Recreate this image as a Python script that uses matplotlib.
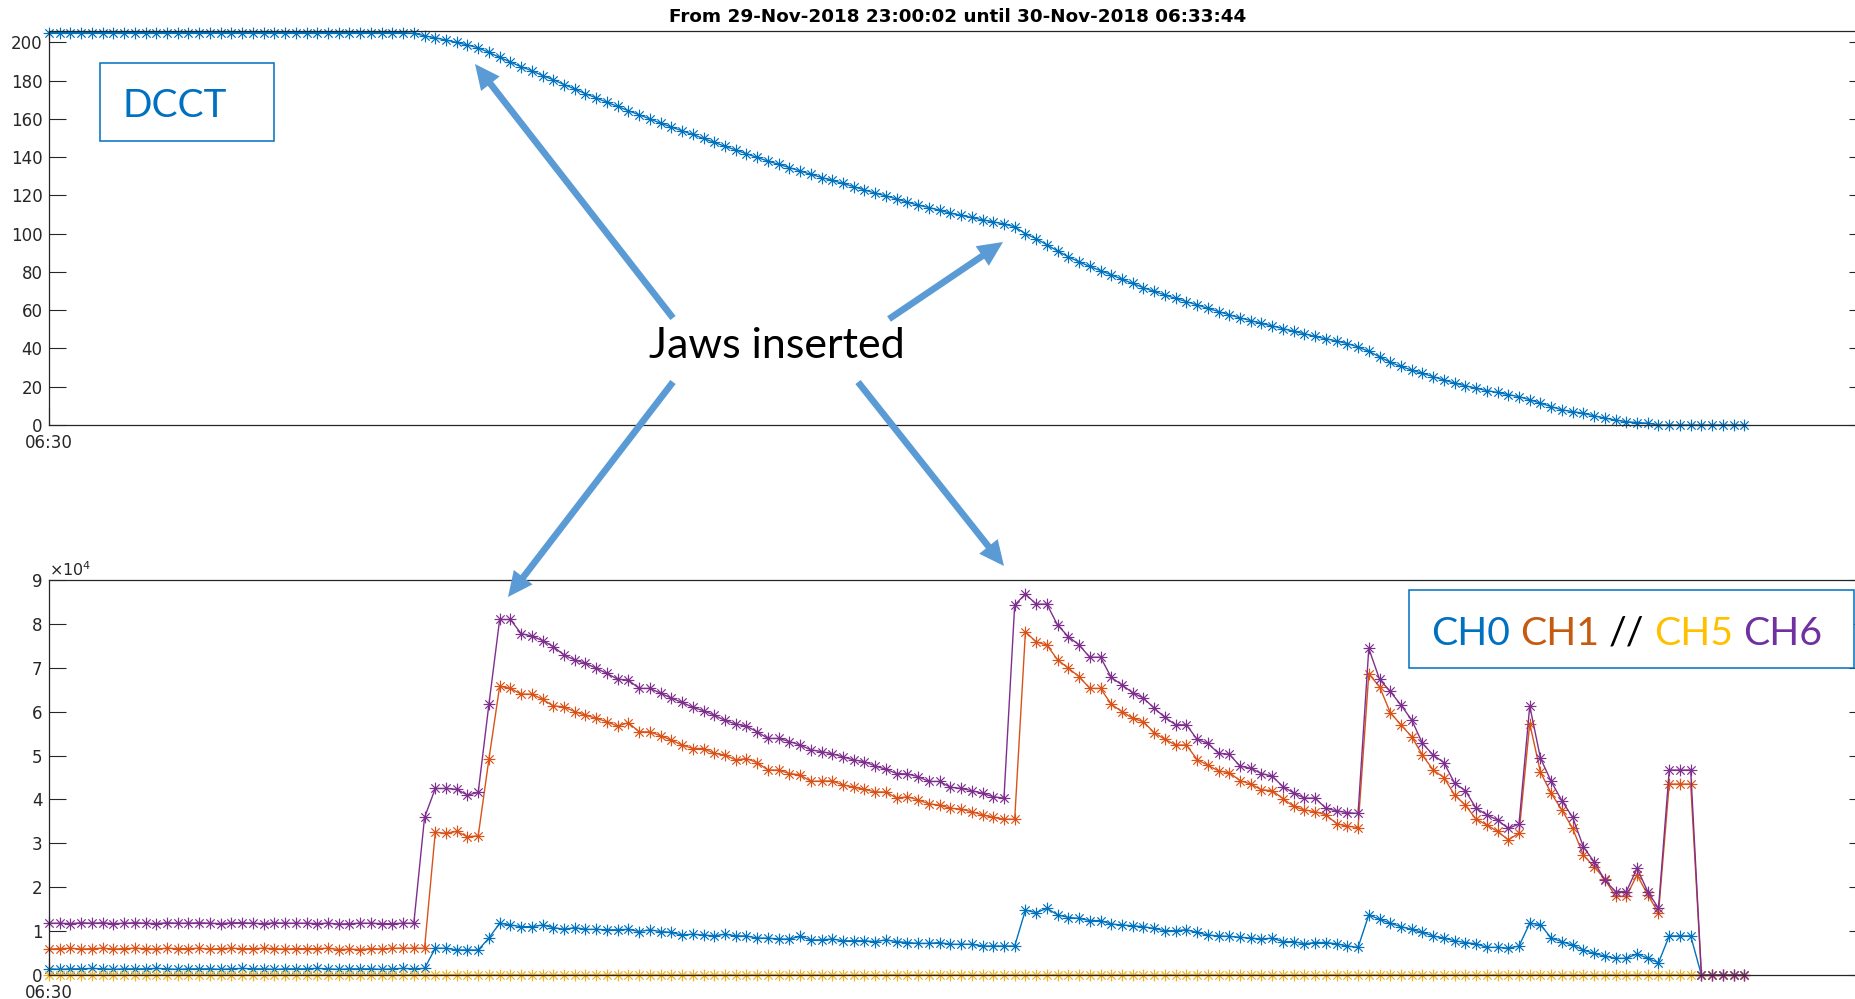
import numpy as np
import matplotlib
matplotlib.use("Agg")
import matplotlib.pyplot as plt
from matplotlib.path import Path
from matplotlib.patches import Rectangle, FancyArrowPatch
from matplotlib.transforms import IdentityTransform
from matplotlib.ticker import FuncFormatter

# ---------------------------------------------------------------- data
title_text = "From 29-Nov-2018 23:00:02 until 30-Nov-2018 06:33:44"
x_tick_label = "06:30"

# beam current (DCCT)
dcct = [
    205.2, 205.2, 205.2, 205.2, 205.2, 205.2, 205.2, 205.2, 205.2, 205.2,
    205.2, 205.2, 205.2, 205.2, 205.2, 205.2, 205.2, 205.2, 205.2, 205.2,
    205.2, 205.2, 205.2, 205.2, 205.2, 205.2, 205.2, 205.2, 205.2, 205.2,
    205.2, 205.2, 205.2, 205.2, 204.8, 203.5, 202.4, 201.3, 200.0, 198.7,
    197.2, 194.8, 192.2, 189.8, 187.3, 185.2, 182.7, 180.5, 178.0, 175.7,
    173.2, 171.0, 168.7, 166.6, 164.3, 162.2, 160.0, 157.8, 155.8, 153.8,
    151.9, 149.8, 147.8, 145.7, 143.8, 141.8, 139.9, 138.0, 136.3, 134.6,
    132.8, 131.1, 129.4, 127.9, 126.3, 124.6, 122.9, 121.2, 119.8, 118.2,
    116.5, 115.0, 113.7, 112.3, 110.8, 109.6, 108.5, 107.3, 106.2, 105.1,
    103.6, 100.0, 97.4, 94.2, 91.0, 87.9, 85.3, 82.9, 80.7, 78.5,
    76.2, 74.0, 71.8, 69.8, 68.0, 66.2, 64.5, 62.8, 61.0, 59.3,
    57.6, 56.0, 54.6, 53.1, 51.8, 50.4, 49.0, 47.7, 46.3, 45.1,
    43.9, 42.6, 40.8, 38.5, 35.7, 32.8, 30.6, 28.7, 27.0, 25.3,
    23.5, 21.9, 20.5, 19.2, 18.0, 17.0, 15.9, 14.8, 13.2, 11.4,
    9.6, 7.9, 7.0, 6.1, 4.8, 3.6, 2.6, 1.7, 1.3, 0.9,
    0, 0, 0, 0, 0, 0, 0, 0, 0,
]

# BLM channels
ch0 = [
    1400, 1300, 1400, 1400, 1500, 1400, 1300, 1400, 1400, 1400,
    1500, 1400, 1300, 1400, 1400, 1400, 1300, 1400, 1500, 1400,
    1400, 1300, 1400, 1400, 1400, 1500, 1400, 1300, 1400, 1400,
    1400, 1300, 1400, 1500, 1400, 1500, 6100, 6100, 5700, 5700,
    5700, 8400, 11800, 11400, 11000, 11000, 11400, 10800, 10400, 10800,
    10400, 10400, 10300, 10300, 10400, 9900, 10300, 9900, 9700, 9100,
    9300, 9100, 8900, 9300, 8900, 8900, 8400, 8400, 8200, 8200,
    8800, 8000, 8000, 8200, 7800, 7800, 7800, 7600, 8000, 7600,
    7400, 7200, 7200, 7400, 7000, 7000, 7000, 6600, 6600, 6600,
    6600, 14800, 14200, 15200, 13700, 13100, 12900, 12400, 12400, 11600,
    11400, 11200, 11000, 10600, 10100, 10100, 10300, 9700, 9100, 8900,
    8800, 8600, 8400, 8200, 8400, 7600, 7600, 7100, 7400, 7400,
    7100, 6600, 6300, 13700, 12700, 11800, 11000, 10400, 9700, 8900,
    8400, 7800, 7400, 7100, 6300, 6300, 6100, 6600, 11800, 11500,
    8400, 7600, 6800, 5700, 4900, 4300, 3800, 3800, 4800, 3800,
    2800, 8900, 8900, 8900, 0, 0, 0, 0, 0,
]
ch1 = [
    5900, 6000, 6100, 5900, 6000, 6100, 5900, 6000, 6100, 6000,
    5900, 6100, 6000, 6000, 6100, 5900, 6000, 6100, 6000, 6000,
    6100, 6000, 5900, 6000, 6000, 6000, 6100, 5800, 5900, 5800,
    6000, 5900, 6100, 6100, 6100, 6100, 32500, 32300, 32700, 31500,
    31700, 49200, 65800, 65300, 64000, 64000, 62800, 61300, 61100, 60000,
    59200, 58500, 57700, 56700, 57500, 55400, 55400, 54500, 53500, 52400,
    51600, 51600, 50500, 50100, 49000, 49300, 48400, 46700, 46700, 45900,
    45600, 44100, 44200, 44200, 43300, 42800, 42300, 41700, 41700, 40300,
    40600, 39900, 39000, 38700, 38000, 37800, 37200, 36500, 35900, 35500,
    35500, 78200, 75900, 75200, 71800, 69900, 68000, 65300, 65300, 61700,
    60000, 58500, 57700, 55200, 53700, 52400, 52400, 49100, 47800, 46500,
    46100, 44300, 43500, 42200, 42000, 40200, 38400, 37600, 37200, 36500,
    34500, 33900, 33600, 68600, 65700, 59800, 57000, 54300, 50100, 46700,
    45000, 41000, 38700, 35500, 34200, 32700, 30800, 32300, 57300, 46200,
    41400, 37600, 33400, 27300, 24700, 21800, 17900, 17900, 22800, 18300,
    14100, 43500, 43500, 43500, 0, 0, 0, 0, 0,
]
ch5 = [
    100, 100, 100, 100, 100, 100, 100, 100, 100, 100,
    100, 100, 100, 100, 100, 100, 100, 100, 100, 100,
    100, 100, 100, 100, 100, 100, 100, 100, 100, 100,
    100, 100, 100, 100, 100, 100, 100, 100, 100, 100,
    100, 100, 100, 100, 100, 100, 100, 100, 100, 100,
    100, 100, 100, 100, 100, 100, 100, 100, 100, 100,
    100, 100, 100, 100, 100, 100, 100, 100, 100, 100,
    100, 100, 100, 100, 100, 100, 100, 100, 100, 100,
    100, 100, 100, 100, 100, 100, 100, 100, 100, 100,
    100, 100, 100, 100, 100, 100, 100, 100, 100, 100,
    100, 100, 100, 100, 100, 100, 100, 100, 100, 100,
    100, 100, 100, 100, 100, 100, 100, 100, 100, 100,
    100, 100, 100, 100, 100, 100, 100, 100, 100, 100,
    100, 100, 100, 100, 100, 100, 100, 100, 100, 100,
    100, 100, 100, 100, 100, 100, 100, 100, 100, 100,
    100, 100, 100, 100, 0, 0, 0, 0, 0,
]
ch6 = [
    11800, 11800, 11700, 11900, 11800, 11900, 11700, 11800, 11900, 11800,
    11700, 11900, 11800, 11800, 11900, 11800, 11700, 11900, 11900, 11800,
    11700, 11900, 11800, 11800, 11800, 11700, 11800, 11600, 11700, 11800,
    11800, 11700, 11700, 11800, 11800, 35900, 42500, 42500, 42300, 41000,
    41600, 61700, 81000, 81000, 77800, 77200, 76200, 74800, 72900, 71800,
    71000, 69900, 68700, 67400, 67200, 65300, 65300, 64200, 63100, 62100,
    61000, 60200, 59200, 58000, 57200, 56700, 55400, 53900, 53900, 53200,
    52400, 51300, 50900, 50400, 49700, 49000, 48600, 47600, 46900, 45900,
    45800, 45200, 44100, 44100, 42800, 42500, 42000, 41400, 40600, 40300,
    84300, 86800, 84500, 84500, 79700, 77100, 75200, 72400, 72400, 67800,
    66100, 64300, 63100, 60800, 58700, 57000, 57000, 53700, 52800, 50500,
    50300, 47600, 47100, 45900, 45300, 42900, 41500, 40300, 40300, 38000,
    37400, 37000, 36800, 74400, 67400, 64600, 61500, 58100, 52800, 50100,
    48400, 43700, 42000, 38000, 36500, 35300, 33400, 34400, 61300, 49400,
    44100, 39700, 35900, 29200, 25800, 21600, 19000, 19000, 24300, 19000,
    15200, 46700, 46700, 46700, 0, 0, 0, 0, 0,
]

top_yticks = [0, 20, 40, 60, 80, 100, 120, 140, 160, 180, 200]
bottom_yticks = [0, 10000, 20000, 30000, 40000, 50000, 60000, 70000, 80000, 90000]

legend_parts = [("CH0", "#0070C0"), ("CH1", "#C55A11"), ("//", "#000000"),
                ("CH5", "#FFC000"), ("CH6", "#7030A0")]

# ---------------------------------------------------------------- figure
W, H = 1856, 999
fig = plt.figure(figsize=(W / 100, H / 100), dpi=100)
fig.patch.set_facecolor("white")


def rect_px(left, top, right, bottom):
    return [left / W, 1 - bottom / H, (right - left) / W, (bottom - top) / H]


ax1 = fig.add_axes(rect_px(49, 31, 1866, 425))
ax2 = fig.add_axes(rect_px(49, 580, 1866, 975))

d = np.sqrt(0.5)
asterisk = Path([(-1, 0), (1, 0), (0, -1), (0, 1), (-d, -d), (d, d), (-d, d), (d, -d)],
                [Path.MOVETO, Path.LINETO] * 4)

c_blue, c_orange, c_yellow, c_purple = "#0072BD", "#D95319", "#EDB120", "#7E2F8E"
line_kw = dict(marker=asterisk, markersize=8.5, markerfacecolor="none",
               markeredgewidth=0.85, lw=1.0, clip_on=False)

idx = np.arange(len(dcct))
x_right = (1866 - 49) / 10.73

ax1.plot(idx, dcct, color=c_blue, **line_kw)
for series, col in ((ch0, c_blue), (ch1, c_orange), (ch5, c_yellow), (ch6, c_purple)):
    ax2.plot(np.arange(len(series)), series, color=col, **line_kw)

ax1.set_ylim(0, 206)
ax1.set_yticks(top_yticks)
ax2.set_ylim(0, 90000)
ax2.set_yticks(bottom_yticks)
ax2.yaxis.set_major_formatter(FuncFormatter(lambda v, p: f"{v / 1e4:g}"))

axis_col = "#262626"
for ax in (ax1, ax2):
    ax.set_xlim(0, x_right)
    ax.set_xticks([0])
    ax.set_xticklabels([x_tick_label])
    ax.tick_params(axis="both", direction="in", length=12, width=0.8,
                   color=axis_col, labelcolor=axis_col, labelsize=12)
    ax.tick_params(axis="y", right=True, pad=4.7)
    ax.tick_params(axis="x", pad=6.6)
    for sp in ax.spines.values():
        sp.set_color(axis_col)
        sp.set_linewidth(0.9)

ax1.set_title(title_text, fontsize=13.2, fontweight="bold", color="black", pad=6.5)
fig.text(49 / W, 1 - 576 / H, r"$\times$10$^{4}$", fontsize=11.5, color=axis_col,
         va="baseline", ha="left")

# ---------------------------------------------------------------- annotations
box_col = "#0070C0"
fig.add_artist(Rectangle((100.5 / W, 1 - 141 / H), 174 / W, 78 / H,
                         transform=fig.transFigure, facecolor="white",
                         edgecolor=box_col, lw=1.1, zorder=5))
fig.text(122.5 / W, 1 - 117 / H, "DCCT", fontsize=28, family="Lato",
         color=box_col, va="baseline", ha="left", zorder=6)

fig.text(649 / W, 1 - 358 / H, "Jaws inserted", fontsize=31, family="Lato",
         color="black", va="baseline", ha="left", zorder=6)

fig.add_artist(Rectangle((1409 / W, 1 - 668 / H), 445 / W, 78 / H,
                         transform=fig.transFigure, facecolor="white",
                         edgecolor=box_col, lw=1.1, zorder=5))

fig.canvas.draw()
renderer = fig.canvas.get_renderer()
legend_size = 28.3


def text_width(s):
    t = fig.text(0, 0, s, fontsize=legend_size, family="Lato")
    w = t.get_window_extent(renderer).width
    t.remove()
    return w


full = ""
x0 = 1431
for k, (part, col) in enumerate(legend_parts):
    full = part if k == 0 else full + " " + part
    offset = 0 if k == 0 else text_width(full) - text_width(part)
    fig.text((x0 + offset) / W, 1 - 645 / H, part, fontsize=legend_size, family="Lato",
             color=col, va="baseline", ha="left", zorder=6)

arrow_col = "#5B9BD5"
arrows = [((673, 318), (475, 64)),
          ((889, 319), (1003, 242)),
          ((673, 382), (508, 597)),
          ((858, 382), (1004, 566))]
for (xa, ya), (xb, yb) in arrows:
    fig.add_artist(FancyArrowPatch(
        (xa, H - ya), (xb, H - yb), transform=IdentityTransform(),
        arrowstyle="simple,head_length=18,head_width=17,tail_width=4.8",
        mutation_scale=1, color=arrow_col, lw=0, shrinkA=0, shrinkB=0, zorder=10))

fig.savefig("out.png", dpi=100, facecolor="white")
